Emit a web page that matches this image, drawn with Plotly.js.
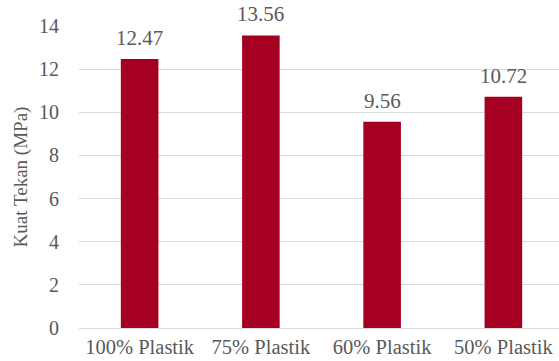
<!DOCTYPE html>
<html>
<head>
<meta charset="utf-8">
<script src="https://cdn.plot.ly/plotly-3.0.1.min.js"></script>
<style>
html,body{margin:0;padding:0;overflow:hidden;background:#fff;}
#chart{width:564px;height:361px;}
</style>
</head>
<body>
<div id="chart"></div>
<script>
const categories = ["100% Plastik", "75% Plastik", "60% Plastik", "50% Plastik"];
const values = [12.47, 13.56, 9.56, 10.72];
const valueLabels = ["12.47", "13.56", "9.56", "10.72"];
const yTicks = [0, 2, 4, 6, 8, 10, 12, 14];

const fam = "Liberation Serif";
const grey = "#595959";

const trace = {
  type: "bar",
  x: categories,
  y: values,
  marker: {color: "#A50021"},
  hoverinfo: "none"
};

const annotations = categories.map((c, i) => ({
  x: c, y: values[i], text: valueLabels[i],
  xref: "x", yref: "y", showarrow: false,
  yanchor: "bottom", yshift: 7,
  font: {family: fam, color: grey, size: 21}
}));

const layout = {
  width: 564, height: 361,
  margin: {l: 79, r: 0, t: 26, b: 33, pad: 0},
  paper_bgcolor: "#fff", plot_bgcolor: "#fff",
  bargap: 0.69,
  showlegend: false,
  font: {family: fam, color: grey, size: 18},
  xaxis: {
    showgrid: false, zeroline: false, showline: false,
    ticks: "", ticklabelstandoff: 4,
    tickfont: {family: fam, color: grey, size: 20.5},
    fixedrange: true
  },
  yaxis: {
    range: [0, 14], tickvals: yTicks, ticktext: yTicks.map(String),
    showgrid: true, gridcolor: "#D9D9D9", gridwidth: 1,
    zeroline: true, zerolinecolor: "#D9D9D9", zerolinewidth: 1,
    showline: false, ticks: "",
    ticklabelstandoff: 19,
    tickfont: {family: fam, color: grey, size: 20},
    title: {text: "Kuat Tekan (MPa)", font: {family: fam, color: grey, size: 19}, standoff: 6},
    fixedrange: true
  },
  annotations: annotations
};

Plotly.newPlot("chart", [trace], layout, {displayModeBar: false, staticPlot: true});
</script>
</body>
</html>
